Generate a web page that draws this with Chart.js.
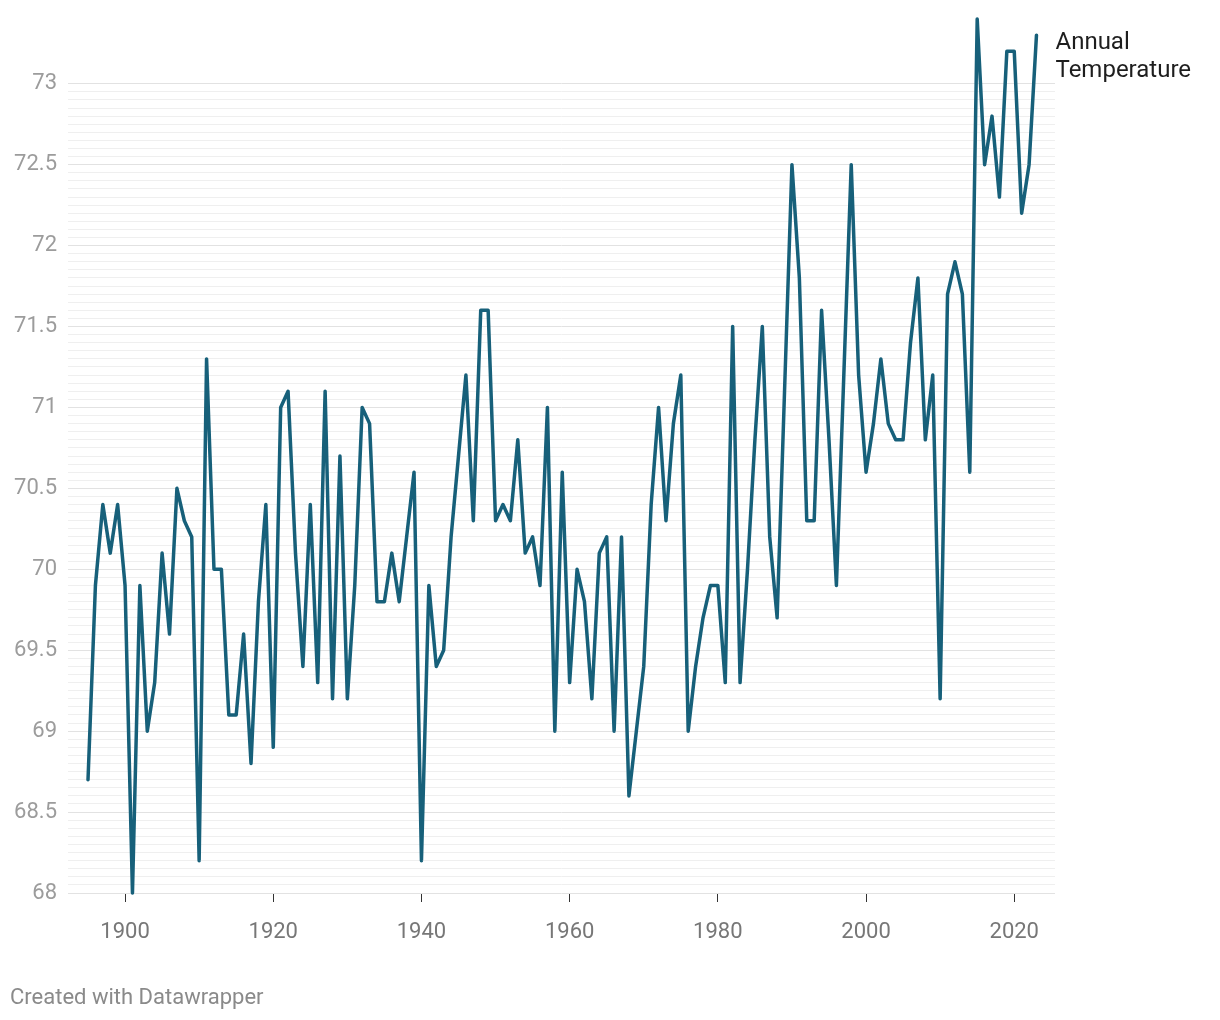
<!DOCTYPE html>
<html lang="en">
<head>
<meta charset="UTF-8">
<title>Annual Temperature</title>
<script src="https://cdn.jsdelivr.net/npm/chart.js@4"></script>
<style>
  * { box-sizing: border-box; margin: 0; padding: 0; }
  body { background: #fff; width: 1220px; height: 1020px; overflow: hidden; font-family: Roboto, sans-serif; }
  .wrap { position: relative; width: 1220px; height: 1020px; }
  canvas { display: block; }
  .credit { position: absolute; left: 10px; top: 984px; font-size: 22px; color: #8a8a8a; }
</style>
</head>
<body>
<div class="wrap">
  <canvas id="tempChart" width="1220" height="1020"></canvas>
  <div class="credit">Created with Datawrapper</div>
</div>
<script>
// ── Data ─────────────────────────────────────────────────────────────────────
const years = [
  1895, 1896, 1897, 1898, 1899, 1900, 1901, 1902, 1903, 1904,
  1905, 1906, 1907, 1908, 1909, 1910, 1911, 1912, 1913, 1914,
  1915, 1916, 1917, 1918, 1919, 1920, 1921, 1922, 1923, 1924,
  1925, 1926, 1927, 1928, 1929, 1930, 1931, 1932, 1933, 1934,
  1935, 1936, 1937, 1938, 1939, 1940, 1941, 1942, 1943, 1944,
  1945, 1946, 1947, 1948, 1949, 1950, 1951, 1952, 1953, 1954,
  1955, 1956, 1957, 1958, 1959, 1960, 1961, 1962, 1963, 1964,
  1965, 1966, 1967, 1968, 1969, 1970, 1971, 1972, 1973, 1974,
  1975, 1976, 1977, 1978, 1979, 1980, 1981, 1982, 1983, 1984,
  1985, 1986, 1987, 1988, 1989, 1990, 1991, 1992, 1993, 1994,
  1995, 1996, 1997, 1998, 1999, 2000, 2001, 2002, 2003, 2004,
  2005, 2006, 2007, 2008, 2009, 2010, 2011, 2012, 2013, 2014,
  2015, 2016, 2017, 2018, 2019, 2020, 2021, 2022, 2023
];

const temps = [
  68.7, 69.9, 70.4, 70.1, 70.4, 69.9, 68.0, 69.9, 69.0, 69.3,
  70.1, 69.6, 70.5, 70.3, 70.2, 68.2, 71.3, 70.0, 70.0, 69.1,
  69.1, 69.6, 68.8, 69.8, 70.4, 68.9, 71.0, 71.1, 70.1, 69.4,
  70.4, 69.3, 71.1, 69.2, 70.7, 69.2, 69.9, 71.0, 70.9, 69.8,
  69.8, 70.1, 69.8, 70.2, 70.6, 68.2, 69.9, 69.4, 69.5, 70.2,
  70.7, 71.2, 70.3, 71.6, 71.6, 70.3, 70.4, 70.3, 70.8, 70.1,
  70.2, 69.9, 71.0, 69.0, 70.6, 69.3, 70.0, 69.8, 69.2, 70.1,
  70.2, 69.0, 70.2, 68.6, 69.0, 69.4, 70.4, 71.0, 70.3, 70.9,
  71.2, 69.0, 69.4, 69.7, 69.9, 69.9, 69.3, 71.5, 69.3, 70.0,
  70.8, 71.5, 70.2, 69.7, 71.1, 72.5, 71.8, 70.3, 70.3, 71.6,
  70.8, 69.9, 71.2, 72.5, 71.2, 70.6, 70.9, 71.3, 70.9, 70.8,
  70.8, 71.4, 71.8, 70.8, 71.2, 69.2, 71.7, 71.9, 71.7, 70.6,
  73.4, 72.5, 72.8, 72.3, 73.2, 73.2, 72.2, 72.5, 73.3
];

const xTicks = [1900, 1920, 1940, 1960, 1980, 2000, 2020];
const yLabels = ['68', '68.5', '69', '69.5', '70', '70.5', '71', '71.5', '72', '72.5', '73'];
const seriesLabel = ['Annual', 'Temperature'];

// ── Helpers ──────────────────────────────────────────────────────────────────
const isLabelled = v => yLabels.some(l => Math.abs(parseFloat(l) - v) < 1e-6);
const labelFor = v => yLabels.find(l => Math.abs(parseFloat(l) - v) < 1e-6) || '';

// fine background rules every 0.05 between the lowest and highest label
function yGridTicks() {
  const lo = parseFloat(yLabels[0]);
  const hi = parseFloat(yLabels[yLabels.length - 1]);
  const out = [];
  for (let i = 0; lo + i * 0.05 <= hi + 1e-9; i++) {
    out.push({ value: Math.round((lo + i * 0.05) * 100) / 100 });
  }
  return out;
}

// no extra room for half-height labels; the layout padding handles it
function noEdgePadding(s) {
  s.paddingTop = 0; s.paddingBottom = 0; s.paddingLeft = 0; s.paddingRight = 0;
}

// line label next to the last point
const endLabel = {
  id: 'endLabel',
  afterDatasetsDraw(chart) {
    const pts = chart.getDatasetMeta(0).data;
    const last = pts[pts.length - 1];
    const ctx = chart.ctx;
    ctx.save();
    ctx.font = '24px Roboto';
    ctx.fillStyle = '#1e1e1e';
    ctx.textBaseline = 'middle';
    seriesLabel.forEach((t, i) => ctx.fillText(t, last.x + 19, last.y + 8 + i * 28));
    ctx.restore();
  }
};

new Chart(document.getElementById('tempChart'), {
  type: 'line',
  data: {
    datasets: [{
      label: 'Annual Temperature',
      data: years.map((yr, i) => ({ x: yr, y: temps[i] })),
      borderColor: '#17607a',
      borderWidth: 3.5,
      pointRadius: 0,
      tension: 0,
      clip: false,
      borderJoinStyle: 'round',
      borderCapStyle: 'round'
    }]
  },
  options: {
    responsive: false,
    animation: false,
    devicePixelRatio: 1,
    layout: { padding: { top: 19, right: 165, left: 0, bottom: 0 } },
    plugins: { legend: { display: false }, tooltip: { enabled: false } },
    scales: {
      x: {
        type: 'linear',
        min: 1892.3,
        max: 2025.5,
        afterBuildTicks: s => { s.ticks = xTicks.map(v => ({ value: v })); },
        afterFit: s => { s.height = 127; noEdgePadding(s); },
        border: { display: false },
        grid: { drawOnChartArea: false, drawTicks: true, tickLength: 9, tickColor: '#333', lineWidth: 1 },
        ticks: {
          color: '#777',
          font: { family: 'Roboto', size: 22 },
          padding: 17,
          maxRotation: 0,
          autoSkip: false,
          callback: v => String(v)
        }
      },
      y: {
        type: 'linear',
        min: 68,
        max: 73.4,
        afterBuildTicks: s => { s.ticks = yGridTicks(); },
        afterFit: s => { s.width = 68; noEdgePadding(s); },
        border: { display: false },
        grid: {
          drawTicks: false,
          lineWidth: 1,
          color: ctx => (ctx.tick && isLabelled(ctx.tick.value) ? '#e2e2e2' : '#efefef')
        },
        ticks: {
          color: '#9c9c9c',
          font: { family: 'Roboto', size: 22 },
          padding: 11,
          autoSkip: false,
          callback: v => labelFor(v)
        }
      }
    }
  },
  plugins: [endLabel]
});
</script>
</body>
</html>
